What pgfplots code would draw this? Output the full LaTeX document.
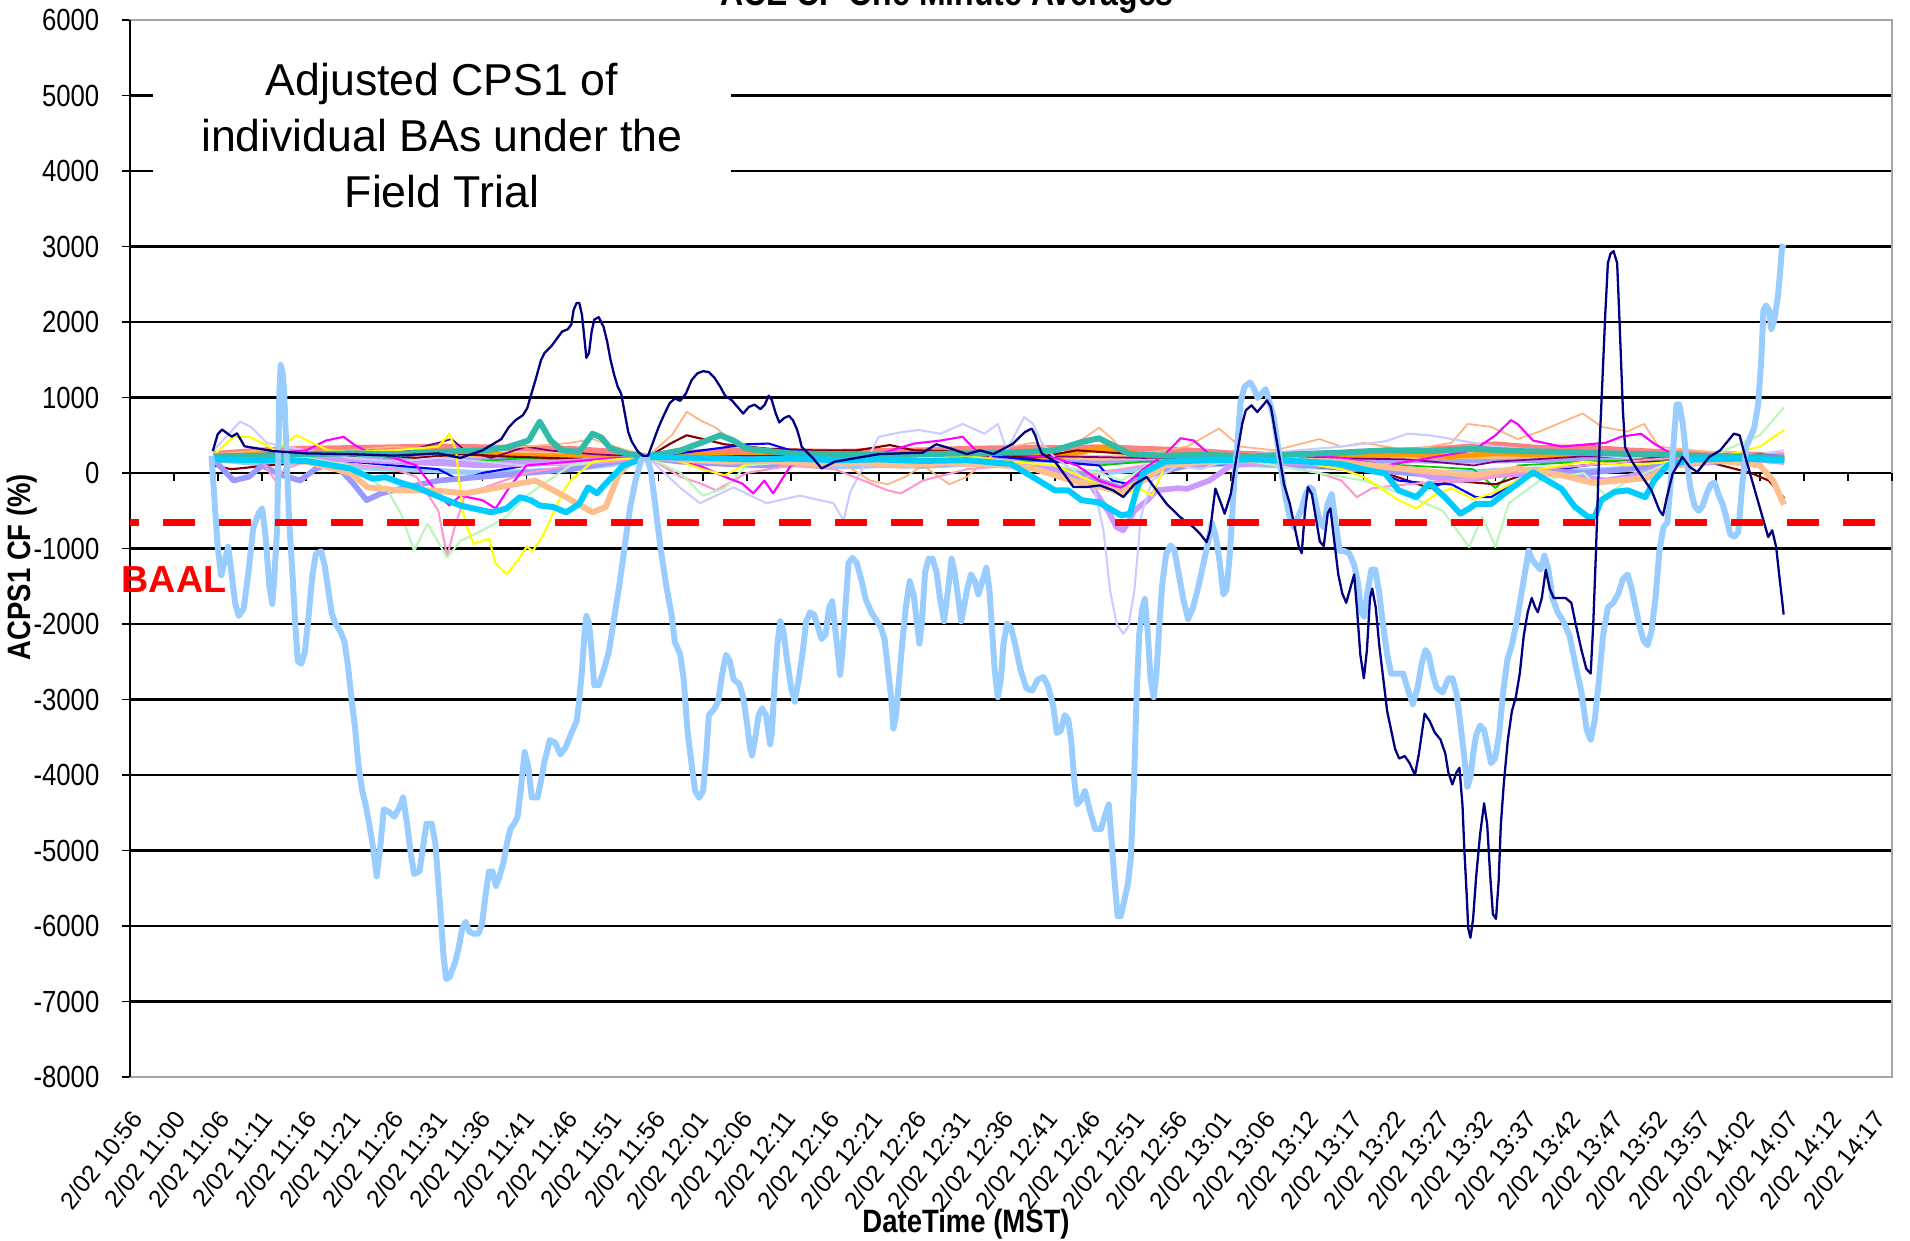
\documentclass[border=0pt]{standalone}
\usepackage{fontspec}
\setmainfont{Liberation Sans}
\newfontfamily\ytickfont[FakeStretch=0.84]{Liberation Sans}
\newfontfamily\labfont[FakeStretch=0.85]{Liberation Sans}
\usepackage{pgfplots}
\pgfplotsset{compat=1.18}
\definecolor{lblue}{HTML}{99CCFF}
\definecolor{navyc}{HTML}{000080}
\definecolor{cyanc}{HTML}{00CCFF}
\definecolor{tealc}{RGB}{51,187,170}
\definecolor{salmon}{HTML}{FF8080}
\definecolor{orangec}{HTML}{FF9900}
\definecolor{peach}{HTML}{FFBF8C}
\definecolor{yellowc}{HTML}{FFFF00}
\definecolor{lavender}{HTML}{CCCCFF}
\definecolor{magentac}{HTML}{FF00FF}
\definecolor{lgreen}{HTML}{BBF5BB}
\definecolor{pinkc}{HTML}{FF99CC}
\definecolor{violetc}{HTML}{9999FF}
\definecolor{lilac}{HTML}{CC99FF}
\definecolor{maroonc}{HTML}{800000}
\definecolor{bluec}{HTML}{0000FF}
\definecolor{flatblue}{HTML}{A3A3F5}
\definecolor{greenc}{HTML}{00CC00}
\definecolor{purplec}{HTML}{800080}
\definecolor{peachthin}{HTML}{FFB380}
\begin{document}
\begin{tikzpicture}
\begin{axis}[
 scale only axis, width=176.2mm, height=105.7mm,
 at={(13mm,16.4mm)}, anchor=south west,
 xmin=0, xmax=40, ymin=-8000, ymax=6000,
 clip=false,
 xtick={0,0.989,1.978,2.968,3.957,4.946,5.935,6.925,7.914,8.903,9.892,10.881,11.871,12.860,13.849,14.838,15.828,16.817,17.806,18.795,19.784,20.774,21.763,22.752,23.741,24.731,25.720,26.709,27.698,28.687,29.677,30.666,31.655,32.644,33.634,34.623,35.612,36.601,37.590,38.580,39.569},
 xticklabels={2/02 10:56,2/02 11:00,2/02 11:06,2/02 11:11,2/02 11:16,2/02 11:21,2/02 11:26,2/02 11:31,2/02 11:36,2/02 11:41,2/02 11:46,2/02 11:51,2/02 11:56,2/02 12:01,2/02 12:06,2/02 12:11,2/02 12:16,2/02 12:21,2/02 12:26,2/02 12:31,2/02 12:36,2/02 12:41,2/02 12:46,2/02 12:51,2/02 12:56,2/02 13:01,2/02 13:06,2/02 13:12,2/02 13:17,2/02 13:22,2/02 13:27,2/02 13:32,2/02 13:37,2/02 13:42,2/02 13:47,2/02 13:52,2/02 13:57,2/02 14:02,2/02 14:07,2/02 14:12,2/02 14:17},
 xtick style={draw=none},
 xticklabel style={font=\fontsize{7}{8.4}\selectfont, xshift=0.71mm, yshift=-2.85mm, rotate=52, anchor=east, inner sep=0pt},
 ytick={-8000,-7000,...,6000},
 ytick pos=left, tick align=outside, major tick length=0.8mm,
 ytick style={black, line width=0.5pt},
 yticklabel style={font=\ytickfont\fontsize{8.7}{10}\selectfont, xshift=-2.2mm, anchor=east, inner sep=0pt},
 /pgf/number format/assume math mode=true,
 /pgf/number format/1000 sep={},
 ymajorgrids, major grid style={black, line width=0.6pt},
 axis line style={draw=gray!70, line width=0.7pt},
 xlabel={DateTime (MST)},
 xlabel style={font=\labfont\bfseries\fontsize{9.2}{11}\selectfont, at={(rel axis cs:0.4745,-0.1395)}, anchor=center},
 ylabel={ACPS1 CF (\%)},
 ylabel style={font=\labfont\bfseries\fontsize{9.2}{11}\selectfont, at={(rel axis cs:-0.0613,0.4825)}, anchor=center},
 every axis plot/.append style={line join=round},
]
% black left axis line
\draw[black, line width=0.7pt] (rel axis cs:0,0) -- (rel axis cs:0,1);
% tick marks on the zero line
\pgfplotsinvokeforeach{0,...,40}{\draw[black, line width=0.5pt] (axis cs:#1,0) -- ([yshift=-0.8mm]axis cs:#1,0);}

% ---- cluster of individual BAs near zero ----
\addplot[flatblue, line width=1.6pt] coordinates {(1.9,200)(4,190)(6,180)(8,170)(10,190)(11.75,210)(14,200)(16,210)(18,200)(20,190)(22,150)(24,180)(26,190)(28,170)(30,160)(32,170)(34,180)(36,200)(37.55,210)};
\addplot[peach, line width=1.6pt] coordinates {(1.9,260)(4,270)(6,260)(8,240)(10,260)(11.75,220)(14,250)(16,240)(18,260)(20,250)(22,200)(24,230)(26,240)(28,230)(30,220)(32,230)(34,250)(36,240)(37.55,240)};
\addplot[salmon, line width=1.7pt] coordinates {(1.9,250)(3,300)(4,320)(5,330)(6,340)(7,350)(8,340)(9,330)(10,320)(11,280)(11.75,220)(12.5,260)(13.5,300)(15,290)(16,280)(17,290)(18,300)(19,320)(20,330)(21,330)(22,340)(23,320)(24,300)(25,260)(26,240)(27,250)(28,280)(29,300)(30,330)(31,380)(32,330)(33,340)(34,300)(35,270)(36,250)(37,240)(37.55,230)};
\addplot[orangec, line width=1.5pt] coordinates {(1.9,220)(3,250)(4,240)(5,260)(6,270)(7,290)(8,250)(9,230)(10,220)(11,210)(11.75,220)(13,240)(14,230)(15,250)(16,260)(17,250)(18,240)(19,260)(20,230)(21,200)(22,330)(22.5,300)(23,230)(24,210)(25,200)(26,210)(27,230)(28,220)(29,250)(30,220)(31,260)(32,240)(33,250)(34,230)(35,220)(36,210)(37,200)(37.55,180)};
\addplot[lblue, line width=1.5pt] coordinates {(1.9,180)(3,120)(4,150)(5,80)(6,50)(7,30)(8,0)(9,20)(10,50)(11,120)(11.75,210)(13,150)(14,100)(15,120)(16,80)(17,100)(18,90)(19,120)(20,100)(21,50)(22,0)(23,50)(24,100)(25,120)(26,100)(27,80)(28,50)(29,20)(30,0)(31,30)(32,50)(33,30)(34,60)(35,100)(36,150)(37,170)(37.55,160)};
\addplot[greenc, line width=0.5pt] coordinates {(1.9,200)(4,220)(5,200)(6,180)(7,150)(7.5,120)(8,160)(9,200)(10,180)(11.75,210)(13,200)(15,180)(17,200)(19,190)(21,150)(22,100)(23,150)(25,180)(27,150)(29,100)(30.5,50)(31,-200)(31.5,100)(33,150)(35,180)(37,170)(37.55,160)};
\addplot[purplec, line width=0.5pt] coordinates {(1.9,220)(4,250)(5.5,300)(6,250)(7,400)(7.3,450)(7.6,300)(8.2,200)(9,350)(9.5,300)(10.5,250)(11.75,210)(13,220)(15,230)(17,220)(19,240)(21,220)(23,200)(25,210)(27,200)(29,180)(30.5,100)(31,150)(33,220)(35,200)(37,190)(37.55,200)};
\addplot[maroonc, line width=0.6pt] coordinates {(1.9,100)(2.3,50)(2.8,80)(3.5,120)(4.5,200)(5.5,250)(6.5,200)(7.5,250)(8.5,220)(9.5,200)(10.5,180)(11.75,210)(12.3,400)(12.64,500)(13,450)(13.5,380)(14.5,320)(15.5,300)(16.5,300)(17.25,370)(17.8,300)(18.5,290)(19.5,250)(20.5,200)(21.5,300)(22.5,260)(23.5,200)(24.5,100)(25.5,150)(26.5,100)(27.5,50)(28.5,0)(29.5,-200)(30,-100)(31,-150)(32,50)(33,100)(34,150)(35,150)(36,120)(36.8,0)(37.2,-100)(37.55,-330)};
\addplot[bluec, line width=0.6pt] coordinates {(1.9,200)(3,220)(4,200)(5,150)(6,100)(7,50)(7.5,-100)(8,0)(9,100)(10,120)(11,180)(11.75,210)(13,300)(14,380)(14.5,390)(15,300)(16,250)(17,230)(18,250)(19,260)(20,200)(21,150)(22,100)(22.3,-100)(22.7,-150)(23,50)(24,150)(25,200)(26,200)(27,150)(28,100)(28.8,-100)(29.5,-140)(30,-150)(30.55,-320)(30.9,-320)(31.5,-100)(32,0)(33,100)(34,150)(35,200)(36,220)(37,200)(37.55,180)};
\addplot[peachthin, line width=0.5pt] coordinates {(1.9,250)(3,300)(4,280)(5,300)(6,350)(7,300)(8,320)(9,350)(10,400)(10.5,450)(11,350)(11.75,220)(12.3,500)(12.64,810)(12.94,700)(13.3,600)(13.7,400)(14,300)(15,250)(16,200)(16.8,-100)(17.2,-150)(17.6,-50)(18,100)(18.6,-150)(19,-50)(19.6,250)(20,350)(20.5,400)(21,300)(21.5,400)(22,600)(22.3,450)(22.6,250)(23.5,300)(24,350)(24.72,590)(25.2,350)(26,300)(27,450)(27.5,350)(28,400)(29,300)(30,400)(30.37,650)(30.9,610)(31.5,450)(32,550)(32.98,790)(33.41,610)(34,550)(34.37,650)(34.7,350)(35.5,300)(36.5,250)(37.55,250)};
\addplot[violetc, line width=1.6pt] coordinates {(1.9,180)(2.35,-100)(2.7,-50)(3,100)(3.4,-20)(3.86,-100)(4.2,50)(4.6,150)(5.07,-140)(5.37,-360)(5.7,-270)(6.2,-200)(7,-100)(8,-50)(9,0)(10,50)(11,150)(11.75,200)(12.5,150)(13.5,120)(14.5,100)(15.5,120)(16.5,150)(17.5,100)(18.5,120)(19.5,150)(20.5,80)(21.5,20)(22,-100)(22.5,-200)(23,-50)(24,100)(25,150)(26,120)(27,100)(28,50)(29,0)(30,-50)(31,-20)(32,30)(33,0)(34,50)(35,100)(36,150)(37,180)(37.55,200)};
\addplot[lilac, line width=1.6pt] coordinates {(1.9,200)(3,220)(4,200)(5,180)(6,150)(7,130)(8,100)(9,120)(10,150)(11,180)(11.75,210)(13,190)(14,180)(15,170)(16,180)(17,170)(18,160)(19,170)(20,150)(21,50)(21.8,-150)(22.2,-500)(22.4,-720)(22.55,-760)(22.8,-500)(23.1,-360)(23.3,-230)(23.8,-200)(24,-210)(24.5,-100)(25,100)(26,150)(27,120)(28,100)(29,50)(29.5,-50)(30,-100)(30.5,-80)(31,-30)(32,0)(33,-50)(33.5,-100)(34,-50)(35,100)(36,150)(37,200)(37.55,230)};
\addplot[lavender, line width=0.6pt] coordinates {(1.9,300)(2.5,680)(2.75,610)(3.1,400)(3.5,350)(4,300)(5,200)(6,150)(7,200)(8,150)(9,100)(10,120)(11,180)(11.75,210)(12.5,-200)(12.94,-400)(13.7,-190)(14.45,-400)(15.2,-300)(15.97,-400)(16.2,-630)(16.35,-250)(17,480)(17.5,540)(17.9,570)(18.4,520)(18.9,650)(19.4,520)(19.7,650)(19.9,300)(20.3,740)(20.5,650)(20.7,400)(21,200)(21.5,0)(21.9,-230)(22.1,-760)(22.25,-1560)(22.4,-2000)(22.55,-2130)(22.66,-2040)(22.8,-1560)(22.95,-580)(23.2,-100)(23.8,100)(24.3,50)(24.8,150)(25.5,250)(26.5,300)(27.5,350)(28.5,420)(29,520)(29.5,500)(30,450)(31,350)(32,300)(33,250)(34,200)(35,250)(36,220)(37,250)(37.55,300)};
\addplot[pinkc, line width=0.6pt] coordinates {(1.9,200)(3,150)(3.3,-100)(3.5,50)(4,150)(5,120)(6,50)(6.5,-50)(7,-500)(7.2,-1110)(7.35,-760)(7.6,-300)(8,-200)(9,0)(10,100)(11,150)(11.75,210)(12.5,-50)(13,-150)(13.3,-230)(14,0)(15,100)(16,50)(17.2,-230)(17.5,-270)(18,-100)(19,50)(20,100)(21,0)(21.5,-100)(22,0)(23,100)(24,120)(25,150)(26,100)(27,0)(27.5,-100)(27.85,-320)(28.2,-200)(29,-150)(30,-100)(31,-50)(32,50)(33,100)(34,150)(35,200)(36,180)(37,150)(37.55,120)};
\addplot[lgreen, line width=0.6pt] coordinates {(1.9,230)(3,250)(4,200)(5,100)(5.5,-100)(5.85,-230)(6.15,-540)(6.45,-1030)(6.75,-670)(7.2,-1120)(7.5,-900)(8,-760)(8.5,-600)(9,-300)(9.5,-100)(10,100)(11,180)(11.75,210)(12.5,0)(13,-300)(13.5,-200)(14,100)(15,150)(16,200)(17,180)(18,150)(19,200)(20,150)(21,100)(22,0)(22.5,-100)(23,50)(24,150)(25,200)(26,100)(27,0)(28,-100)(29,-300)(29.8,-500)(30.4,-980)(30.7,-580)(31,-980)(31.3,-400)(32,-100)(33,0)(33.5,-300)(34,-100)(35,150)(36,250)(37,500)(37.55,870)};
\addplot[magentac, line width=0.6pt] coordinates {(1.9,200)(3,250)(4,300)(4.45,430)(4.85,480)(5.1,370)(5.5,250)(6,200)(6.5,100)(7.05,-320)(7.25,-430)(7.5,-300)(8,-360)(8.3,-470)(8.6,-200)(9,100)(10,150)(11,200)(11.75,210)(12.5,150)(13,80)(13.5,-50)(13.9,-140)(14.15,-270)(14.4,-100)(14.6,-270)(15,100)(16,200)(17,250)(17.8,390)(18.4,430)(18.9,480)(19.2,300)(20,250)(21,200)(21.5,100)(22,-100)(22.5,-200)(23,50)(23.5,250)(23.85,460)(24.15,430)(24.5,250)(25.5,200)(26.5,250)(27.5,200)(28.5,100)(29.5,200)(30.5,300)(31,500)(31.35,700)(31.5,650)(31.85,430)(32.5,350)(33.5,400)(33.85,480)(34.3,520)(34.6,390)(35,250)(36,200)(37,250)(37.55,220)};
\addplot[yellowc, line width=0.6pt] coordinates {(1.9,240)(2.35,480)(2.7,480)(3,400)(3.3,300)(3.78,500)(4.1,410)(4.5,300)(5,280)(6,300)(7,350)(7.25,520)(7.4,300)(7.55,-500)(7.65,-720)(7.8,-940)(8.15,-870)(8.3,-1200)(8.55,-1340)(8.8,-1160)(9,-980)(9.15,-1030)(9.4,-800)(9.6,-540)(9.85,-230)(10,-100)(10.5,150)(11,180)(11.75,210)(12.5,150)(13,50)(13.5,-30)(14,120)(15,200)(16,180)(17,160)(18,200)(19,220)(20,150)(21,100)(22,-150)(22.5,-300)(22.9,-200)(23.2,-300)(23.5,100)(24.5,200)(25.5,250)(26.5,150)(27.5,50)(28,-50)(28.8,-360)(29.2,-470)(29.6,-300)(30,-200)(30.5,-350)(31,-250)(31.5,-100)(32,50)(33,150)(34,100)(35,150)(36,200)(37,350)(37.55,570)};
\addplot[peach, line width=1.7pt] coordinates {(1.9,180)(3,170)(4,150)(5,0)(5.4,-190)(6.1,-230)(6.9,-230)(7.6,-270)(8,-230)(9.2,-100)(9.9,-320)(10.5,-520)(10.8,-450)(11.1,-10)(11.45,190)(11.75,210)(12.5,180)(13.5,150)(14.5,160)(15.5,120)(16.5,140)(17.5,100)(18.5,130)(19.5,120)(20.5,60)(21,-30)(21.5,-120)(22,-180)(22.5,-250)(23,-100)(23.5,100)(24.5,150)(25.5,180)(26.5,170)(27.5,150)(28.5,80)(29.5,20)(30.5,-30)(31.5,60)(32.5,-30)(33.2,-130)(34,-90)(34.5,-60)(35,100)(36,170)(37,100)(37.3,-100)(37.55,-420)};
\addplot[tealc, line width=1.7pt] coordinates {(1.9,220)(3,230)(4,250)(5,260)(6,250)(7,280)(8,300)(8.5,330)(9.05,430)(9.3,680)(9.55,430)(9.8,300)(10.2,280)(10.5,520)(10.7,470)(10.9,330)(11.3,250)(11.75,220)(12.5,300)(13.1,430)(13.4,500)(13.7,430)(14,320)(15,260)(16,250)(17,240)(18,250)(19,260)(20,270)(21,300)(21.6,410)(22,460)(22.3,370)(22.7,250)(23.5,230)(24.5,240)(25.5,220)(26.5,250)(27.5,270)(28.5,300)(29.5,290)(30.5,320)(31.5,290)(32.5,280)(33.5,260)(34.5,250)(35.5,230)(36.5,220)(37.55,200)};
\addplot[cyanc, line width=1.7pt] coordinates {(1.9,180)(3,170)(4,160)(5,60)(5.5,-75)(5.8,-55)(6.1,-120)(6.5,-190)(7.2,-360)(7.5,-430)(7.8,-470)(8.2,-520)(8.55,-470)(8.85,-320)(9.1,-360)(9.3,-430)(9.6,-450)(9.9,-520)(10.2,-410)(10.4,-190)(10.6,-270)(10.8,-140)(11.2,100)(11.75,210)(13,200)(14,180)(15,190)(16,170)(17,180)(18,160)(19,170)(20,120)(21,-230)(21.3,-230)(21.6,-360)(22,-390)(22.5,-560)(22.7,-540)(22.85,-230)(23,0)(23.5,150)(24.5,170)(25.5,180)(26.5,160)(27.5,120)(28,50)(28.5,-10)(28.8,-230)(29.2,-320)(29.5,-140)(29.85,-320)(30.2,-540)(30.4,-470)(30.55,-410)(30.9,-410)(31.25,-250)(31.6,-100)(31.85,10)(32.1,-75)(32.5,-210)(32.8,-450)(33.1,-580)(33.25,-580)(33.4,-360)(33.7,-250)(34,-230)(34.4,-320)(34.6,-100)(34.9,100)(35.5,180)(36.5,190)(37.55,170)};

% ---- light blue BA ----
\addplot[lblue, line width=1.7pt] coordinates {
(1.85,228)(1.99,-975)(2.07,-1355)(2.15,-1165)(2.23,-975)(2.31,-1355)(2.39,-1734)(2.47,-1893)(2.58,-1798)(2.68,-1355)(2.80,-722)(2.92,-532)(3.00,-468)(3.08,-848)(3.16,-1481)(3.23,-1734)(3.28,-1355)(3.34,-722)(3.39,1051)(3.42,1431)(3.47,1304)(3.50,1051)(3.55,291)(3.61,-595)(3.69,-1355)(3.75,-1988)(3.81,-2494)(3.89,-2526)(3.97,-2367)(4.06,-1861)(4.14,-1355)(4.22,-1070)(4.34,-1038)(4.42,-1228)(4.50,-1545)(4.58,-1861)(4.66,-1988)(4.79,-2114)(4.87,-2241)(4.95,-2557)(5.03,-3000)(5.11,-3380)(5.19,-3887)(5.27,-4203)(5.35,-4393)(5.43,-4646)(5.52,-4963)(5.60,-5343)(5.68,-4963)(5.76,-4456)(5.88,-4488)(6.00,-4551)(6.12,-4425)(6.20,-4298)(6.29,-4646)(6.37,-5026)(6.45,-5311)(6.57,-5279)(6.65,-4963)(6.73,-4646)(6.85,-4646)(6.93,-4899)(6.99,-5343)(7.06,-5912)(7.12,-6419)(7.18,-6703)(7.26,-6672)(7.38,-6482)(7.46,-6292)(7.54,-6039)(7.62,-5944)(7.70,-6070)(7.79,-6102)(7.91,-6102)(7.99,-5976)(8.07,-5596)(8.15,-5279)(8.23,-5279)(8.31,-5469)(8.39,-5343)(8.48,-5153)(8.56,-4899)(8.64,-4710)(8.72,-4646)(8.80,-4551)(8.88,-4140)(8.96,-3697)(9.04,-3887)(9.12,-4298)(9.25,-4298)(9.33,-4077)(9.41,-3823)(9.53,-3538)(9.65,-3570)(9.77,-3728)(9.89,-3633)(10.02,-3444)(10.14,-3285)(10.20,-3000)(10.26,-2621)(10.32,-2114)(10.36,-1893)(10.42,-1988)(10.48,-2367)(10.54,-2811)(10.64,-2811)(10.75,-2621)(10.87,-2367)(10.99,-1924)(11.11,-1481)(11.23,-975)(11.35,-468)(11.48,-89)(11.60,165)(11.72,228)(11.82,38)(11.92,-405)(12.04,-975)(12.17,-1481)(12.29,-1861)(12.37,-2241)(12.49,-2400)
(12.57,-2734)(12.66,-3444)(12.75,-3858)(12.83,-4213)(12.92,-4302)(13.01,-4213)(13.08,-3740)(13.14,-3207)(13.27,-3118)(13.35,-3030)(13.44,-2674)(13.53,-2408)(13.62,-2497)(13.70,-2734)(13.83,-2793)(13.92,-2970)(14.01,-3325)(14.07,-3621)(14.12,-3740)(14.18,-3562)(14.27,-3207)(14.35,-3118)(14.44,-3207)(14.53,-3592)(14.57,-3444)(14.64,-2734)(14.70,-2260)(14.76,-1964)(14.83,-2083)(14.92,-2497)(15.01,-2852)(15.09,-3030)(15.18,-2734)(15.27,-2379)(15.35,-1964)(15.44,-1846)(15.53,-1876)(15.61,-2024)(15.70,-2201)(15.79,-2142)(15.87,-1787)(15.94,-1698)(16.00,-2024)(16.07,-2379)(16.12,-2674)(16.18,-2319)(16.24,-1787)(16.31,-1195)(16.40,-1124)(16.50,-1195)(16.61,-1432)(16.70,-1669)(16.83,-1846)(16.96,-1964)(17.05,-2053)(17.13,-2201)(17.22,-2674)(17.28,-2970)(17.33,-3385)(17.39,-3207)(17.46,-2734)(17.53,-2260)(17.61,-1787)(17.70,-1432)(17.79,-1609)(17.86,-1964)(17.92,-2260)(17.98,-1964)(18.05,-1314)(18.13,-1136)(18.22,-1136)(18.31,-1314)(18.39,-1669)(18.48,-1964)(18.57,-1550)(18.65,-1136)(18.72,-1314)(18.79,-1609)(18.87,-1964)(18.93,-1787)(19.00,-1550)(19.09,-1343)(19.18,-1432)(19.26,-1609)(19.35,-1432)(19.44,-1254)(19.51,-1550)(19.57,-2083)(19.63,-2615)(19.70,-2970)(19.77,-2734)(19.83,-2260)(19.91,-1994)(20.00,-2053)(20.09,-2260)(20.22,-2615)(20.35,-2852)(20.48,-2882)(20.61,-2734)(20.74,-2704)(20.84,-2822)(20.96,-3089)(21.04,-3444)(21.13,-3414)(21.22,-3207)(21.30,-3266)(21.37,-3562)(21.43,-4035)(21.50,-4390)(21.59,-4331)(21.68,-4213)(21.78,-4450)(21.91,-4716)(22.04,-4716)(22.15,-4509)(22.22,-4390)(22.29,-4923)(22.35,-5396)(22.42,-5870)(22.49,-5870)(22.56,-5692)(22.65,-5456)(22.72,-5101)(22.79,-4154)(22.85,-2970)(22.91,-2142)(22.98,-1787)(23.04,-1669)(23.10,-2083)(23.17,-2734)(23.24,-2970)(23.30,-2674)(23.36,-2083)(23.43,-1491)(23.52,-1077)(23.62,-959)(23.71,-1018)(23.80,-1314)(23.91,-1669)(24.02,-1935)(24.13,-1787)(24.26,-1491)(24.37,-1195)(24.48,-899)(24.56,-663)(24.65,-840)(24.74,-1195)(24.82,-1609)(24.89,-1550)(24.95,-1195)(25.00,-781)(25.04,-367)(25.08,-12)(25.15,462)(25.21,935)(25.30,1142)(25.43,1201)(25.52,1112)(25.60,994)(25.69,1053)(25.78,1112)(25.87,935)
(25.97,719)(26.06,344)(26.15,-31)(26.24,-344)(26.33,-594)(26.42,-719)(26.51,-594)(26.60,-469)(26.69,-281)(26.78,-188)(26.85,-219)(26.92,-406)(27.01,-656)(27.10,-719)(27.19,-406)(27.28,-281)(27.37,-656)(27.46,-1031)(27.55,-1031)(27.68,-1063)(27.79,-1219)(27.88,-1469)(27.95,-1844)(28.02,-1906)(28.09,-1594)(28.18,-1281)(28.27,-1281)(28.36,-1594)(28.45,-2031)(28.54,-2406)(28.63,-2656)(28.76,-2656)(28.90,-2656)(29.03,-2906)(29.12,-3063)(29.23,-2844)(29.32,-2531)(29.41,-2344)(29.48,-2406)(29.57,-2656)(29.66,-2844)(29.80,-2906)(29.93,-2719)(30.02,-2719)(30.11,-2906)(30.18,-3219)(30.27,-3656)(30.36,-4156)(30.43,-4031)(30.49,-3719)(30.56,-3469)(30.65,-3344)(30.74,-3406)(30.83,-3656)(30.90,-3844)(30.99,-3781)(31.08,-3469)(31.17,-2906)(31.27,-2469)(31.37,-2281)(31.48,-1969)(31.57,-1656)(31.66,-1344)(31.75,-1031)(31.84,-1156)(31.93,-1219)(32.02,-1281)(32.11,-1094)(32.20,-1281)(32.29,-1656)(32.41,-1844)(32.54,-1969)(32.68,-2156)(32.81,-2531)(32.95,-2906)(33.07,-3406)(33.16,-3531)(33.25,-3281)(33.34,-2781)(33.44,-2156)(33.55,-1781)(33.67,-1719)(33.79,-1594)(33.89,-1406)(34.00,-1344)(34.09,-1531)(34.18,-1781)(34.27,-2031)(34.36,-2219)(34.45,-2281)(34.54,-2094)(34.63,-1656)(34.72,-1031)(34.81,-719)(34.90,-656)(34.97,-156)(35.05,469)(35.11,906)(35.17,906)(35.25,656)(35.34,156)(35.43,-219)(35.52,-438)(35.61,-500)(35.70,-438)(35.79,-281)(35.88,-156)(35.97,-125)(36.06,-281)(36.15,-406)(36.24,-594)(36.33,-813)(36.42,-844)(36.51,-781)(36.60,-156)(36.69,344)(36.78,469)(36.87,594)(36.96,906)(37.03,1469)(37.08,2156)(37.14,2219)(37.21,2156)(37.26,1906)(37.33,2031)(37.41,2344)(37.46,2656)(37.50,2969)(37.54,3031)};

% ---- navy BA ----
\addplot[navyc, line width=0.65pt] coordinates {
(1.88,291)(1.99,513)(2.09,576)(2.19,532)(2.31,481)(2.43,525)(2.6,354)(3.24,291)(4,260)(5,250)(6,230)(7,260)(7.5,200)(8,300)(8.43,449)(8.6,608)(8.76,703)(8.92,766)(9.02,861)(9.08,987)(9.21,1241)(9.33,1494)(9.41,1589)(9.57,1684)(9.69,1779)(9.81,1874)(9.94,1905)(10.02,1969)(10.07,2159)(10.14,2253)(10.2,2253)(10.26,2095)(10.3,1874)(10.36,1526)(10.42,1589)(10.48,1874)(10.54,2032)(10.64,2064)(10.75,1937)(10.83,1747)(10.91,1494)(10.99,1304)(11.07,1146)(11.15,1051)(11.23,798)(11.31,544)(11.39,418)(11.52,291)(11.64,228)(11.76,228)(11.88,418)(12,608)(12.12,766)(12.25,924)(12.37,987)(12.49,956)(12.62,1053)(12.75,1231)(12.88,1320)(13.01,1349)(13.14,1337)(13.27,1260)(13.4,1142)(13.51,1024)(13.66,964)(13.79,876)(13.92,787)(14.05,876)(14.18,905)(14.31,846)(14.41,905)(14.5,1024)(14.57,964)(14.66,787)(14.74,669)(14.85,728)(14.96,757)(15.05,698)(15.14,580)(15.2,462)(15.25,343)(15.5,200)(15.7,60)(16,150)(17,250)(18,270)(18.3,380)(18.6,330)(19,250)(19.3,300)(19.6,250)(20.05,389)(20.2,478)(20.32,544)(20.47,588)(20.55,500)(20.62,367)(20.7,257)(21,150)(21.42,-186)(21.72,-186)(22.02,-164)(22.32,-230)(22.55,-319)(22.8,-150)(23.08,-53)(23.53,-407)(23.84,-584)(24.14,-717)(24.29,-805)(24.44,-916)(24.52,-761)(24.64,-207)(24.77,-406)(24.85,-539)(24.99,-274)(25.12,212)(25.25,653)(25.33,830)(25.46,896)(25.59,808)(25.72,896)(25.81,962)(25.9,874)(26.03,433)(26.2,-156)(26.33,-406)(26.44,-719)(26.53,-969)(26.6,-1063)(26.67,-531)(26.74,-188)(26.83,-281)(26.92,-594)(27.01,-906)(27.1,-969)(27.19,-531)(27.25,-469)(27.34,-906)(27.43,-1344)(27.52,-1594)(27.61,-1719)(27.7,-1531)(27.79,-1344)(27.86,-1844)(27.93,-2406)(28.01,-2719)(28.08,-2344)(28.15,-1656)(28.2,-1531)(28.28,-1781)(28.36,-2281)(28.45,-2719)(28.54,-3156)(28.63,-3406)(28.72,-3656)(28.81,-3781)(28.94,-3750)(29.05,-3844)(29.17,-4000)(29.26,-3719)(29.39,-3188)(29.5,-3281)(29.62,-3438)(29.75,-3531)(29.86,-3719)(29.93,-3969)(30.02,-4125)(30.11,-3969)(30.18,-3906)(30.25,-4406)(30.29,-4969)(30.34,-5531)(30.38,-6031)(30.43,-6156)(30.49,-5906)(30.56,-5344)(30.65,-4781)(30.74,-4375)(30.81,-4656)(30.88,-5344)(30.94,-5844)(31.01,-5906)(31.07,-5406)(31.12,-4656)(31.19,-4094)(31.28,-3531)(31.37,-3156)(31.46,-2969)(31.55,-2656)(31.64,-2156)(31.73,-1844)(31.82,-1656)(31.9,-1781)(31.96,-1844)(32.05,-1656)(32.14,-1281)(32.23,-1531)(32.32,-1656)(32.44,-1656)(32.59,-1656)(32.72,-1719)(32.83,-2031)(32.95,-2344)(33.06,-2594)(33.16,-2656)(33.22,-1969)(33.28,-1031)(33.35,219)(33.43,1281)(33.49,2094)(33.55,2781)(33.61,2906)(33.68,2938)(33.76,2781)(33.8,2219)(33.85,1469)(33.89,844)(33.94,344)(34.1,150)(34.28,-9)(34.54,-230)(34.72,-494)(34.8,-560)(34.89,-318)(35.02,-9)(35.24,212)(35.41,79)(35.58,13)(35.85,212)(36.1,300)(36.41,521)(36.54,500)(36.63,300)(36.8,-53)(37.06,-583)(37.19,-848)(37.28,-759)(37.37,-980)(37.45,-1406)(37.5,-1656)(37.54,-1875)};

% ---- BAAL ----
\addplot[red, line width=2pt, dash pattern=on 3.2mm off 2.4mm, dash phase=2.3mm] coordinates {(0,-650) (40,-650)};
\node[anchor=base west, text=red, font=\bfseries\fontsize{10.7}{12}\selectfont, inner sep=0pt] at (axis cs:-0.204,-1589) {BAAL};

% ---- text box ----
\node[fill=white, inner sep=0pt, minimum width=57.8mm, minimum height=20mm, align=center, font=\fontsize{12.7}{15.9}\selectfont] at (axis cs:7.08,4470) {Adjusted CPS1 of\\individual BAs under the\\Field Trial};
\end{axis}
\node[anchor=base, font=\labfont\bfseries\fontsize{10.7}{12}\selectfont, inner sep=0pt] at (94.7mm,123.55mm) {ACE CF One Minute Averages};
\pgfresetboundingbox
\useasboundingbox (0,0) rectangle (191mm,124.1mm);
\end{tikzpicture}
\end{document}
